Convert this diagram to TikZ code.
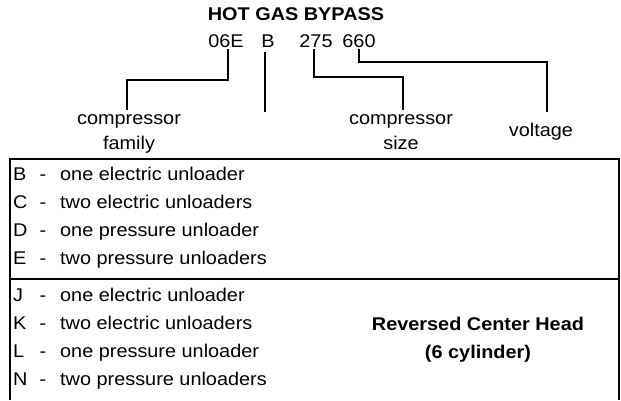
\documentclass[tikz,border=0pt]{standalone}
\usepackage{fontspec}
\setmainfont{Liberation Sans}[FakeStretch=1.08]
\usetikzlibrary{positioning}

\begin{document}
\begin{tikzpicture}[x=1pt, y=-1pt, line join=miter,
  every node/.style={inner sep=0pt, font=\fontsize{18.4}{22}\selectfont},
  head/.style={font=\fontsize{18.4}{22}\selectfont\bfseries},
  lead/.style={line width=2pt},
  frame/.style={line width=2pt}]

\useasboundingbox (0,0) rectangle (621,400);

% model number
\node[head, anchor=base] (title) at (296,20) {HOT GAS BYPASS};
\node[anchor=base] (c06E) at (226,47) {06E};
\node[anchor=base] (cB)   at (268,47) {B};
\node[anchor=base] (c275) at (316,47) {275};
\node[anchor=base] (c660) at (359,47) {660};

\node[anchor=base] (famA)  at (129,124) {compressor};
\node[anchor=base] (famB)  at (129,149) {family};
\node[anchor=base] (sizeA) at (401,124) {compressor};
\node[anchor=base] (sizeB) at (401,149) {size};
\node[anchor=base] (volt)  at (541,136) {voltage};

\coordinate (Bend) at (265,112);

\draw[lead] ([xshift=2pt,yshift=-2pt]c06E.south) -- ++(0,31) -| ([xshift=-2pt,yshift=4pt]famA.north);
\draw[lead] ([xshift=-3pt,yshift=-5pt]cB.south) -- (Bend);
\draw[lead] ([xshift=-2pt,yshift=-2pt]c275.south) -- ++(0,28) -| ([xshift=2pt,yshift=4pt]sizeA.north);
\draw[lead] ([yshift=-2pt]c660.south) -- ++(0,13) -| ([xshift=6pt,yshift=10pt]volt.north);

% table
\draw[frame] (10,400) -- (10,159) -- (619,159) -- (619,400);
\draw[frame] (10,279) -- (619,279);

\node[anchor=base west] (keyB) at (13,180) {B};
\node[anchor=base] (dashB) at (43,180) {-};
\node[anchor=base west] (textB) at (60,180) {one electric unloader};

\node[anchor=base west] (keyC) at (13,208) {C};
\node[anchor=base] (dashC) at (43,208) {-};
\node[anchor=base west] (textC) at (60,208) {two electric unloaders};

\node[anchor=base west] (keyD) at (13,236) {D};
\node[anchor=base] (dashD) at (43,236) {-};
\node[anchor=base west] (textD) at (60,236) {one pressure unloader};

\node[anchor=base west] (keyE) at (13,264) {E};
\node[anchor=base] (dashE) at (43,264) {-};
\node[anchor=base west] (textE) at (60,264) {two pressure unloaders};

\node[anchor=base west] (keyJ) at (13,301) {J};
\node[anchor=base] (dashJ) at (43,301) {-};
\node[anchor=base west] (textJ) at (60,301) {one electric unloader};

\node[anchor=base west] (keyK) at (13,329) {K};
\node[anchor=base] (dashK) at (43,329) {-};
\node[anchor=base west] (textK) at (60,329) {two electric unloaders};

\node[anchor=base west] (keyL) at (13,357) {L};
\node[anchor=base] (dashL) at (43,357) {-};
\node[anchor=base west] (textL) at (60,357) {one pressure unloader};

\node[anchor=base west] (keyN) at (13,385) {N};
\node[anchor=base] (dashN) at (43,385) {-};
\node[anchor=base west] (textN) at (60,385) {two pressure unloaders};

\node[head, anchor=base] (rch) at (478,330) {Reversed Center Head};
\node[head, anchor=base] (cyl) at (478,358) {(6 cylinder)};
\end{tikzpicture}
\end{document}
